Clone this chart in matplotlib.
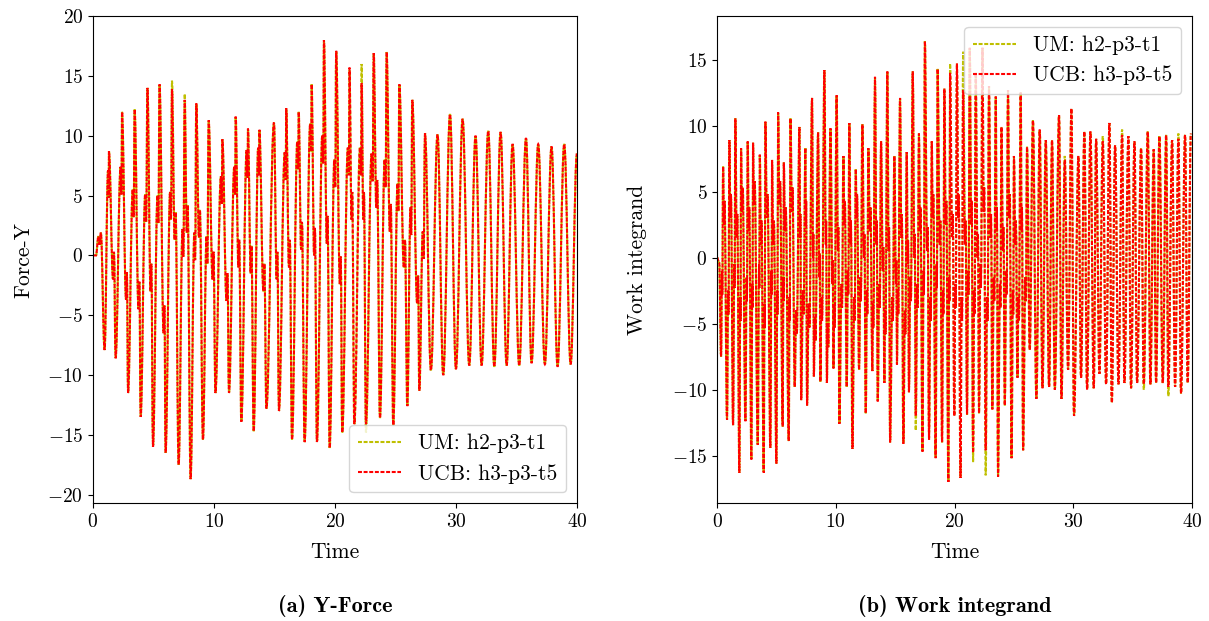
import numpy as np
import matplotlib
matplotlib.use("Agg")
import matplotlib.pyplot as plt
from matplotlib.path import Path
from matplotlib.patches import PathPatch

plt.rcParams.update({
    'font.family': 'serif',
    'font.serif': ['cmr10'],
    'mathtext.fontset': 'cm',
    'axes.formatter.use_mathtext': True,
    'axes.unicode_minus': True,
})

nan = float('nan')

# ---------------- Force-Y data ----------------
fy_start_t = [0.0, 0.25, 0.45, 0.55, 0.65]
fy_start_v = [0.0, 0.0, 1.6, 0.9, 1.9]

fy_trough_t = [0.96, 1.87, 2.90, 3.94, 4.96, 6.00, 7.08, 8.07, 9.09, 10.12, 11.24, 12.26,
               13.28, 14.33, 15.37, 16.45, 17.49, 18.51, 19.56, 20.60, 21.60, 22.56, 23.72,
               24.82, 25.98, 26.97, 27.93, 28.95, 30.00, 31.10, 32.12, 33.17, 34.19, 35.23,
               36.25, 37.35, 38.40, 39.48]
fy_trough_ucb = [-7.9, -8.6, -11.5, -13.5, -16.0, -16.5, -17.5, -18.7, -15.4, -11.5, -11.5, -13.9,
                 -14.7, -12.8, -13.0, -15.4, -15.6, -15.6, -16.1, -14.8, -14.1, -14.1, -13.6,
                 -14.2, -12.6, -11.3, -9.6, -10.0, -9.5, -9.2, -9.2, -9.3, -9.2, -9.2,
                 -9.0, -9.1, -9.3, -9.1]
fy_trough_um = [-7.9, -8.6, -11.5, -13.5, -16.0, -16.5, -17.5, -18.7, -15.4, -11.5, -11.5, -13.9,
                -14.7, -12.8, -13.0, -15.4, -15.6, -15.6, -16.1, -14.8, -14.1, -14.8, -13.6,
                -14.2, -12.6, -11.3, -9.6, -10.0, -9.5, -9.2, -9.2, -9.3, -9.2, -9.2,
                -9.0, -9.1, -9.3, -9.1]

fy_peak_t = [1.32, 2.40, 3.44, 4.50, 5.50, 6.53, 7.58, 8.54, 9.56, 10.69, 11.79, 12.81, 13.75,
             14.96, 15.97, 17.00, 18.07, 19.09, 20.10, 21.20, 22.20, 23.20, 24.27, 25.32, 26.39,
             27.44, 28.48, 29.51, 30.55, 31.62, 32.67, 33.69, 34.68, 35.79, 36.80, 37.90, 38.95]
fy_peak_ucb = [8.7, 12.0, 12.2, 14.0, 14.3, 13.9, 13.0, 12.7, 11.3, 9.7, 11.6, 10.6, 10.5,
               11.1, 12.3, 12.0, 14.3, 18.0, 17.1, 15.7, 14.4, 16.9, 17.0, 14.3, 13.0,
               10.2, 10.1, 11.8, 11.4, 10.0, 10.4, 10.3, 9.3, 9.8, 9.3, 9.1, 9.3]
fy_peak_um = [8.7, 12.0, 12.2, 14.0, 14.3, 14.6, 13.5, 12.7, 11.3, 9.7, 11.6, 10.6, 10.5,
              11.1, 12.3, 12.0, 14.3, 18.0, 17.1, 15.5, 16.0, 16.9, 17.0, 14.3, 13.0,
              10.2, 10.1, 11.8, 11.4, 10.0, 10.4, 10.3, 9.3, 9.8, 9.3, 9.1, 9.3]

# shoulder level on the rising stroke after each trough
fy_rise_sh = [7.1, 7.4, 5.5, 5.1, 5.0, 5.3, 2.2, 1.9, 1.6, 6.6, 7.4, 8.8, 9.0, 10.2, 8.6, 9.5,
              11.0, 10.0, 8.0, 9.0, 9.0, 8.5, 8.0, 6.0, 4.0, 2.0]
# shoulder level on the falling stroke after each peak
fy_fall_sh = [-2.0, -3.7, -4.5, -3.0, -6.5, 1.3, 1.9, 1.5, -2.0, -3.8, -1.0, -1.5, -3.0, -2.0,
              -1.0, 0.5, 0.0, 1.0, -2.4, 3.0, 3.0, 4.0, 2.0, -1.0, -4.0]
fy_end_t = [40.0]
fy_end_v = [8.5]

# ---------------- Work integrand data ----------------
wi_start_t = [0.0, 0.18]
wi_start_v = [0.0, -0.4]

wi_bot_t = [0.34, 0.84, 1.35, 1.88, 2.39, 2.89, 3.43, 3.93, 4.49, 5.00, 5.53, 6.04, 6.54, 7.08,
            7.58, 8.15, 8.70, 9.25, 9.80, 10.30, 10.92, 11.40, 11.96, 12.52, 13.08, 13.53,
            14.09, 14.57, 15.15, 15.69, 16.16, 16.73, 17.30, 17.85, 18.41, 18.95, 19.48,
            19.98, 20.50, 21.05, 21.56, 22.06, 22.62, 23.18, 23.66, 24.23, 24.80, 25.30,
            25.77, 26.33, 26.89, 27.40, 27.96, 28.44, 29.00, 29.56, 30.06, 30.65, 31.16,
            31.72, 32.20, 32.76, 33.24, 33.80, 34.30, 34.86, 35.37, 35.93, 36.49, 36.97,
            37.53, 38.00, 38.57, 39.07, 39.63]
wi_bot_ucb = [-7.5, -12.3, -12.7, -16.3, -12.4, -15.3, -14.2, -16.3, -14.4, -15.6, -12.8, -13.9,
              -9.8, -10.8, -11.2, -9.0, -9.4, -9.5, -8.4, -12.6, -9.8, -14.5, -8.5, -11.8, -8.6,
              -10.9, -9.5, -14.0, -8.1, -14.1, -10.2, -12.0, -14.7, -13.8, -15.2, -14.0, -17.0,
              -12.0, -16.7, -11.9, -14.8, -11.8, -14.6, -11.5, -16.6, -11.2, -15.2, -9.1,
              -14.6, -7.0, -10.7, -9.9, -9.8, -10.0, -10.7, -8.5, -12.0, -9.1, -10.0,
              -9.9, -8.8, -9.6, -11.0, -9.6, -9.5, -9.9, -9.5, -9.6, -9.6, -9.5,
              -9.5, -9.8, -9.8, -10.3, -9.5]
wi_bot_um = [-7.5, -12.3, -12.7, -16.3, -12.4, -15.3, -14.2, -16.3, -14.4, -15.6, -12.8, -13.9,
             -9.8, -10.8, -11.2, -9.0, -9.4, -9.5, -8.4, -12.6, -9.8, -14.5, -8.5, -11.8, -8.6,
             -10.9, -9.5, -14.0, -8.1, -14.1, -10.2, -13.1, -14.7, -13.8, -15.2, -14.0, -17.0,
             -12.0, -16.7, -11.9, -15.5, -11.8, -16.5, -11.5, -16.6, -11.2, -15.2, -9.1,
             -14.6, -7.0, -10.7, -9.9, -9.8, -10.0, -10.7, -8.5, -12.0, -9.1, -10.0,
             -9.9, -8.8, -9.6, -11.0, -9.6, -9.5, -9.9, -9.5, -10.0, -9.6, -9.5,
             -9.5, -10.5, -9.8, -10.3, -9.5]

wi_top_t = [0.51, 1.04, 1.54, 2.02, 2.58, 3.03, 3.60, 4.07, 4.63, 5.14, 5.62, 6.18, 6.94, 7.44,
            8.00, 8.51, 9.04, 9.55, 10.07, 10.64, 11.14, 11.68, 12.24, 12.74, 13.30, 13.81,
            14.34, 14.93, 15.41, 15.97, 16.48, 17.00, 17.50, 18.08, 18.57, 19.14, 19.62,
            20.20, 20.72, 21.28, 21.78, 22.35, 22.90, 23.47, 23.95, 24.50, 25.00, 25.57,
            26.10, 26.60, 27.17, 27.68, 28.21, 28.80, 29.28, 29.84, 30.43, 30.93, 31.44,
            31.92, 32.48, 33.04, 33.52, 34.11, 34.64, 35.15, 35.71, 36.27, 36.77, 37.25,
            37.82, 38.32, 38.85, 39.41, 39.90]
wi_top_ucb = [6.9, 8.9, 10.55, 8.3, 8.8, 8.7, 7.8, 10.3, 7.4, 11.0, 7.2, 10.55, 9.9, 8.3,
              12.1, 9.5, 14.2, 9.8, 12.3, 7.7, 10.2, 6.7, 10.1, 8.3, 13.7, 8.8,
              14.1, 7.7, 12.1, 8.0, 14.1, 9.4, 16.4, 8.8, 14.3, 12.8, 14.0,
              14.7, 12.7, 15.9, 14.0, 15.9, 13.0, 12.2, 9.9, 12.7, 7.7, 12.5,
              8.4, 10.4, 9.7, 8.9, 8.9, 10.8, 7.4, 11.3, 7.7, 9.55, 9.55,
              9.0, 8.8, 10.2, 8.5, 9.3, 9.2, 8.8, 8.3, 9.55, 8.2, 9.2,
              9.3, 8.9, 9.0, 9.3, 9.4]
wi_top_um = [6.9, 8.9, 10.55, 8.3, 8.8, 8.7, 7.8, 10.3, 7.4, 11.0, 7.2, 10.55, 9.9, 8.3,
             12.1, 9.5, 14.2, 9.8, 12.3, 7.7, 10.2, 6.7, 10.1, 8.3, 13.7, 8.8,
             14.1, 7.7, 12.1, 8.0, 14.1, 9.4, 16.4, 8.8, 14.3, 12.8, 14.7,
             14.7, 15.6, 15.9, 14.0, 15.9, 13.0, 12.2, 9.9, 12.7, 7.7, 12.5,
             8.4, 10.4, 9.7, 8.9, 8.9, 10.8, 7.7, 11.3, 7.7, 9.55, 9.55,
             9.0, 9.2, 10.2, 8.5, 9.7, 9.2, 8.8, 8.3, 9.55, 8.2, 9.2,
             9.3, 8.9, 9.4, 9.3, 9.4]

# shoulder levels of the work integrand strokes (dense middle band, t < 26)
wi_rise_sh = [-1.0, -2.5, -0.5, -3.0, -1.5, -2.0, -0.5, -3.5, -1.0, -2.5,
              -1.5, -3.0, -4.0, -2.5, -3.5, -4.5, -3.0, -5.0, -3.5, -2.0,
              -1.0, -3.0, -1.5, -2.5, -3.5, -2.0, -4.0, -3.0, -2.5, -4.0,
              -1.5, -2.0, -1.0, -3.0, -0.5, -2.5, -1.5, -2.0, -3.0, -1.0,
              -2.5, -0.5, -3.0, -1.5, -2.0, -1.0, -2.5, -3.0, -1.5]
wi_fall_sh = [2.5, 3.0, 1.5, 3.5, 2.0, 4.0, 1.0,
              3.0, 1.0, 4.0, 2.0, 3.5, 1.5, 2.5,
              0.0, -1.5, 1.0, -2.0, 0.5,
              2.5, 1.0, 3.0, 0.0, 2.0,
              1.0, -1.0, 0.5, -2.0, 1.5, -0.5, 0.0,
              2.0, 0.5, 3.0, 1.0, 2.5, 1.5,
              3.0, 1.0, 2.5, 0.0, 3.5, 1.5, 2.0, 0.5, 3.0, 1.0, 2.0]

labels = ['UM: h2-p3-t1', 'UCB: h3-p3-t5']


def get(lst, i):
    return lst[i] if i < len(lst) else nan


def add_segment(ts, vs, ta, va, tb, vb, sh, dip=2.3):
    """append the stroke from (ta,va) to (tb,vb), with a shoulder level sh on it"""
    if sh == sh and min(va, vb) + 1.0 < sh < max(va, vb) - 1.0:
        frac = (sh - va) / (vb - va)
        frac = min(max(frac, 0.2), 0.8)
        t1 = ta + frac * (tb - ta)
        sgn = 1.0 if vb > va else -1.0
        ts += [t1, t1 + 0.14 * (tb - ta)]
        vs += [sh, sh - sgn * dip]
    ts.append(tb)
    vs.append(vb)


def force_series(peaks, troughs):
    ts = list(fy_start_t)
    vs = list(fy_start_v)
    ts.append(fy_trough_t[0]); vs.append(troughs[0])
    for i in range(len(fy_peak_t)):
        add_segment(ts, vs, fy_trough_t[i], troughs[i], fy_peak_t[i], peaks[i], get(fy_rise_sh, i))
        add_segment(ts, vs, fy_peak_t[i], peaks[i], fy_trough_t[i + 1], troughs[i + 1],
                    get(fy_fall_sh, i))
    ts += fy_end_t
    vs += fy_end_v
    return ts, vs


def work_series(bots, tops):
    pts = [(t, v, 'b', i) for i, (t, v) in enumerate(zip(wi_bot_t, bots))]
    pts += [(t, v, 't', i) for i, (t, v) in enumerate(zip(wi_top_t, tops))]
    pts.sort(key=lambda p: p[0])
    ts = list(wi_start_t) + [pts[0][0]]
    vs = list(wi_start_v) + [pts[0][1]]
    for a, b in zip(pts[:-1], pts[1:]):
        if a[2] == 'b' and b[2] == 't':
            sh = get(wi_rise_sh, a[3])
        elif a[2] == 't' and b[2] == 'b':
            sh = get(wi_fall_sh, a[3])
        else:
            sh = nan
        add_segment(ts, vs, a[0], a[1], b[0], b[1], sh, dip=1.8)
    return ts, vs


def smooth_path(ts, vs, k=0.38):
    """cubic Bezier path through the read points, flat tangent at every point"""
    verts = [(ts[0], vs[0])]
    codes = [Path.MOVETO]
    for i in range(1, len(ts)):
        dt = ts[i] - ts[i - 1]
        verts += [(ts[i - 1] + k * dt, vs[i - 1]), (ts[i] - k * dt, vs[i]), (ts[i], vs[i])]
        codes += [Path.CURVE4] * 3
    return Path(verts, codes)


fig = plt.figure(figsize=(12.09, 6.21), dpi=100)
ax1 = fig.add_axes([0.0769, 0.19, 0.4003, 0.784])
ax2 = fig.add_axes([0.5931, 0.19, 0.3929, 0.784])

lw = 1.5
dash = (1.9, 0.8)
um_style = dict(edgecolor='y', lw=lw, linestyle=(1.35, dash), fill=False)
ucb_style = dict(edgecolor='r', lw=lw, linestyle=(0, dash), fill=False)


def draw(ax, um_xy, ucb_xy):
    ax.add_patch(PathPatch(smooth_path(*um_xy), **um_style))
    ax.add_patch(PathPatch(smooth_path(*ucb_xy), **ucb_style))
    ax.plot([], [], color='y', lw=lw, linestyle=(0, dash), label=labels[0])
    ax.plot([], [], color='r', lw=lw, linestyle=(0, dash), label=labels[1])


draw(ax1, force_series(fy_peak_um, fy_trough_um), force_series(fy_peak_ucb, fy_trough_ucb))
draw(ax2, work_series(wi_bot_um, wi_top_um), work_series(wi_bot_ucb, wi_top_ucb))

ax1.set_xlim(0, 40)
ax1.set_ylim(-20.7, 20.0)
ax1.set_yticks([-20, -15, -10, -5, 0, 5, 10, 15, 20])
ax2.set_xlim(0, 40)
ax2.set_ylim(-18.6, 18.3)
ax2.set_yticks([-15, -10, -5, 0, 5, 10, 15])

for ax, yl, pad in ((ax1, 'Force-Y', 10.5), (ax2, 'Work integrand', 18)):
    ax.set_xticks([0, 10, 20, 30, 40])
    ax.tick_params(labelsize=14)
    ax.set_xlabel('Time', fontsize=15.5, labelpad=8.5)
    ax.set_ylabel(yl, fontsize=15.5, labelpad=pad)

ax1.legend(loc='lower right', fontsize=15.5)
ax2.legend(loc='upper right', fontsize=15.5)

fig.text(0.277, 0.024, '(a) Y-Force', ha='center', va='center', fontsize=16, family='cmb10')
fig.text(0.790, 0.024, '(b) Work integrand', ha='center', va='center', fontsize=16, family='cmb10')

fig.savefig('out.png', dpi=100)
